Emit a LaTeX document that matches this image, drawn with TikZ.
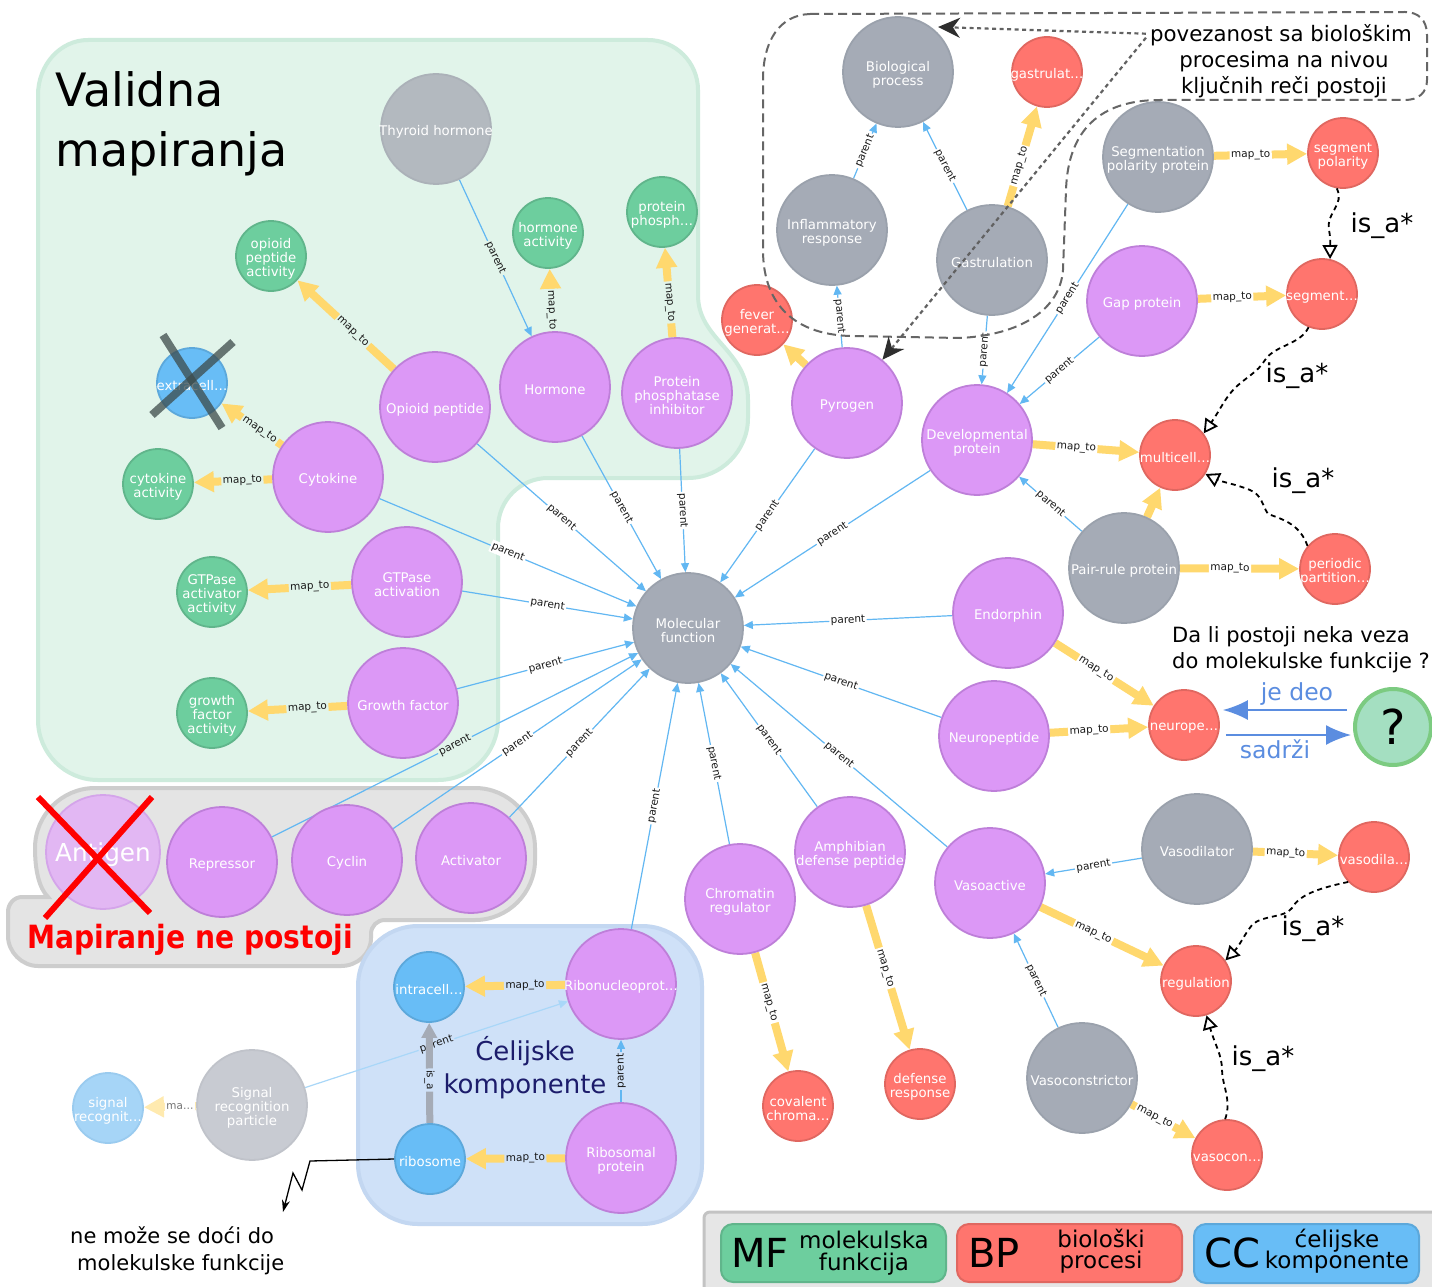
\documentclass[tikz,border=0pt]{standalone}
\usepackage{fontspec}
\setmainfont{DejaVu Sans}
\usepackage{graphicx}
\usetikzlibrary{arrows.meta}
\pgfdeclarelayer{bg}
\pgfdeclarelayer{edges}
\pgfsetlayers{bg,edges,main}
\definecolor{purF}{HTML}{DC98F6}
\definecolor{purB}{HTML}{BE7FD9}
\definecolor{gryF}{HTML}{A5ABB6}
\definecolor{gryB}{HTML}{9AA1AC}
\definecolor{redF}{HTML}{FF756E}
\definecolor{redB}{HTML}{E06760}
\definecolor{grnF}{HTML}{6DCE9E}
\definecolor{grnB}{HTML}{60B58B}
\definecolor{bluF}{HTML}{68BDF6}
\definecolor{bluB}{HTML}{5CA8DB}
\definecolor{mapY}{HTML}{FFD86E}
\definecolor{parB}{HTML}{62B7F2}
\definecolor{grnR}{HTML}{E1F4EA}
\definecolor{grnRB}{HTML}{CDEBDC}
\definecolor{bluR}{HTML}{CFE1F8}
\definecolor{bluRB}{HTML}{C3D7F1}
\definecolor{gryR}{HTML}{E4E4E4}
\definecolor{gryRB}{HTML}{CDCDCD}
\definecolor{legF}{HTML}{E6E6E6}
\definecolor{legB}{HTML}{C3C3C3}
\definecolor{navy}{HTML}{1C1C6B}
\definecolor{arrB}{HTML}{5B8DE0}
\definecolor{thyF}{HTML}{B3B9BF}
\definecolor{thyB}{HTML}{ABB1B8}
\definecolor{srpF}{HTML}{C8CBD2}
\definecolor{srpB}{HTML}{C0C3CA}
\definecolor{antF}{HTML}{E2B7F3}
\definecolor{antB}{HTML}{D4A4EA}
\definecolor{sigF}{HTML}{A6D5F7}
\definecolor{sigB}{HTML}{9ACBEF}
\definecolor{qF}{HTML}{A4DFC1}
\definecolor{qB}{HTML}{7CCB81}
\definecolor{xG}{HTML}{3D4B4B}
\tikzset{
 nd/.style={circle, inner sep=0pt, line width=1.8pt},
 bigN/.style={nd, minimum size=110pt},
 smN/.style={nd, minimum size=70pt},
 purN/.style={bigN, draw=purB, fill=purF},
 gryN/.style={bigN, draw=gryB, fill=gryF},
 redN/.style={smN, draw=redB, fill=redF},
 grnN/.style={smN, draw=grnB, fill=grnF},
 bluN/.style={smN, draw=bluB, fill=bluF},
 txt/.style={text=white, font=\fontsize{13.3}{14}\selectfont, align=center, inner sep=0pt, yshift=-3pt},
 parentE/.style={draw=parB, line width=1.2pt, -{Triangle[length=9pt,width=8pt]}},
 maptoE/.style={draw=mapY, line width=8pt, -{Triangle[length=20pt,width=20pt]}},
 isagE/.style={draw=gryF, line width=7pt, -{Triangle[length=15pt,width=15pt]}},
 elbl/.style={font=\fontsize{10.5}{11}\selectfont, sloped, inner sep=1.5pt, fill=white, text=black!90},
 onG/.style={fill=grnR}, onB/.style={fill=bluR},
 isaE/.style={draw=black, line width=1.8pt, dash pattern=on 5pt off 4pt, -{Triangle[open,length=14pt,width=15pt]}},
 isalbl/.style={font=\fontsize{26}{28}\selectfont, anchor=base, inner sep=0pt},
 annotE/.style={draw=black!62, line width=2.2pt, dash pattern=on 4pt off 3.5pt, -{Stealth[length=22pt,width=20pt,inset=7pt,color=black!82]}},
 plain/.style={inner sep=0pt, anchor=base},
 blueArr/.style={draw=arrB, line width=2pt, -{Latex[length=25pt,width=20pt]}},
 legbox/.style={line width=2pt, rounded corners=12pt},
}
\begin{document}
\begin{tikzpicture}[x=1pt,y=-1pt]
\useasboundingbox (0,0) rectangle (1432,1287);
\begin{pgfonlayer}{bg}
\fill[white] (0,0) rectangle (1432,1287);
% green region
\path[fill=grnR, draw=grnRB, line width=4pt] (88,40) -- (648,40) .. controls (675.6,40) and (698,62.4) .. (698,90) -- (698,295) .. controls (698,340) and (748,350) .. (748,400) -- (748,418) .. controls (748,451) and (721,478) .. (688,478) -- (548,478) .. controls (520.4,478) and (498,500.4) .. (498,528) -- (498,720) .. controls (498,753) and (471,780) .. (438,780) -- (98,780) .. controls (65,780) and (38,753) .. (38,720) -- (38,95) .. controls (38,65) and (60,40) .. (88,40) -- cycle;
% gray region
\path[fill=gryR, draw=gryRB, line width=4pt] (95,788) -- (475,788) .. controls (508,788) and (535,815) .. (535,848) -- (535,860) .. controls (535,893) and (508,920) .. (475,920) -- (385,920) .. controls (377,920) and (371,926) .. (371,934) -- (371,938) .. controls (371,954) and (357,966) .. (341,966) -- (38,966) .. controls (22,966) and (8,952) .. (8,936) -- (8,912) .. controls (8,904) and (14,897) .. (22,897) -- (48,897) .. controls (39,888) and (35,870) .. (35,848) .. controls (35,815) and (62,788) .. (95,788) -- cycle;
% blue region
\path[fill=bluR, draw=bluRB, line width=4pt, rounded corners=60pt] (358,926) rectangle (702,1224);
% legend
\path[fill=legF, draw=legB, line width=3pt, rounded corners=6pt] (704,1212) rectangle (1445,1300);
\end{pgfonlayer}

% ---------- nodes ----------
\node[gryN, label={[txt]center:Molecular\\function}] (mf) at (688,628) {};
\node[bigN, draw=thyB, fill=thyF, label={[txt]center:Thyroid hormone}] (thy) at (436,129) {};
\node[purN, label={[txt]center:Opioid peptide}] (opp) at (435,407) {};
\node[purN, label={[txt]center:Hormone}] (horm) at (555,387) {};
\node[purN, label={[txt]center:Protein\\phosphatase\\inhibitor}] (ppi) at (677,393) {};
\node[purN, label={[txt]center:Cytokine}] (cyto) at (328,477) {};
\node[purN, label={[txt]center:GTPase\\activation}] (gtp) at (407,582) {};
\node[purN, label={[txt]center:Growth factor}] (grow) at (403,703) {};
\node[bigN, minimum size=114pt, draw=antB, fill=antF, label={[txt,font=\fontsize{24.7}{26}\selectfont]center:Antigen}] (ant) at (103,852) {};
\node[purN, label={[txt]center:Repressor}] (rep) at (222,862) {};
\node[purN, label={[txt]center:Cyclin}] (cyc) at (347,860) {};
\node[purN, label={[txt]center:Activator}] (act) at (471,858) {};
\node[purN, label={[txt]center:Ribonucleoprot…}] (ribn) at (621,984) {};
\node[purN, label={[txt]center:Ribosomal\\protein}] (ribp) at (621,1158) {};
\node[bigN, draw=srpB, fill=srpF, label={[txt]center:Signal\\recognition\\particle}] (srp) at (252,1105) {};
\node[purN, label={[txt]center:Chromatin\\regulator}] (chro) at (740,899) {};
\node[purN, label={[txt]center:Amphibian\\defense peptide}] (amph) at (850,852) {};
\node[purN, label={[txt]center:Vasoactive}] (vact) at (990,883) {};
\node[gryN, label={[txt]center:Vasodilator}] (vdil) at (1197,849) {};
\node[gryN, label={[txt]center:Vasoconstrictor}] (vcon) at (1082,1078) {};
\node[purN, label={[txt]center:Neuropeptide}] (neup) at (994,736) {};
\node[purN, label={[txt]center:Endorphin}] (endo) at (1008,613) {};
\node[gryN, label={[txt]center:Pair-rule protein}] (pair) at (1124,568) {};
\node[purN, label={[txt]center:Developmental\\protein}] (dev) at (977,440) {};
\node[purN, label={[txt]center:Gap protein}] (gap) at (1142,301) {};
\node[gryN, label={[txt]center:Segmentation\\polarity protein}] (segp) at (1158,157) {};
\node[gryN, label={[txt]center:Gastrulation}] (gast) at (992,260) {};
\node[gryN, label={[txt]center:Biological\\process}] (bio) at (898,72) {};
\node[gryN, label={[txt]center:Inflammatory\\response}] (infl) at (832,230) {};
\node[purN, label={[txt]center:Pyrogen}] (pyr) at (847,403) {};
% small nodes
\node[grnN, label={[txt]center:opioid\\peptide\\activity}] (opa) at (271,256) {};
\node[grnN, label={[txt]center:hormone\\activity}] (hoa) at (548,233) {};
\node[grnN, label={[txt]center:protein\\phosph…}] (pph) at (662,212) {};
\node[grnN, label={[txt]center:cytokine\\activity}] (cya) at (158,484) {};
\node[grnN, label={[txt]center:GTPase\\activator\\activity}] (gaa) at (212,592) {};
\node[grnN, label={[txt]center:growth\\factor\\activity}] (gfa) at (212,713) {};
\node[bluN, label={[txt]center:extracell…}] (ext) at (192,383) {};
\node[bluN, label={[txt]center:intracell…}] (intr) at (429,987) {};
\node[bluN, label={[txt]center:ribosome}] (ribo) at (430,1159) {};
\node[smN, draw=sigB, fill=sigF, label={[txt]center:signal\\recognit…}] (sig) at (108,1108) {};
\node[redN, label={[txt]center:gastrulat…}] (gasa) at (1047,72) {};
\node[redN, label={[txt]center:fever\\generat…}] (fev) at (757,320) {};
\node[redN, label={[txt]center:segment\\polarity}] (segpol) at (1343,153) {};
\node[redN, label={[txt]center:segment…}] (seg) at (1322,294) {};
\node[redN, label={[txt]center:multicell…}] (mult) at (1175,455) {};
\node[redN, label={[txt]center:periodic\\partition…}] (peri) at (1335,569) {};
\node[redN, label={[txt]center:neurope…}] (neur) at (1184,725) {};
\node[redN, label={[txt]center:vasodila…}] (vdila) at (1374,857) {};
\node[redN, label={[txt]center:regulation}] (reg) at (1196,981) {};
\node[redN, label={[txt]center:vasocon…}] (vcona) at (1227,1155) {};
\node[redN, label={[txt]center:covalent\\chroma…}] (cov) at (798,1106) {};
\node[redN, label={[txt]center:defense\\response}] (defr) at (920,1084) {};
\node[circle, minimum size=76pt, inner sep=0pt, fill=qF, draw=qB, line width=4pt, font=\fontsize{48}{50}\selectfont] (q) at (1393,727) {?};

% ---------- edges ----------
\begin{pgfonlayer}{edges}
\draw[parentE] (thy) -- node[elbl,onG]{parent} (horm);
\draw[parentE] (opp) -- node[elbl]{parent} (mf);
\draw[parentE] (horm) -- node[elbl]{parent} (mf);
\draw[parentE] (ppi) -- node[elbl]{parent} (mf);
\draw[parentE] (cyto) -- node[elbl]{parent} (mf);
\draw[parentE] (gtp) -- node[elbl]{parent} (mf);
\draw[parentE] (grow) -- node[elbl]{parent} (mf);
\draw[parentE] (rep) -- node[elbl,onG]{parent} (mf);
\draw[parentE] (cyc) -- node[elbl]{parent} (mf);
\draw[parentE] (act) -- node[elbl]{parent} (mf);
\draw[parentE] (ribn) -- node[elbl]{parent} (mf);
\draw[parentE] (chro) -- node[elbl]{parent} (mf);
\draw[parentE] (amph) -- node[elbl]{parent} (mf);
\draw[parentE] (vact) -- node[elbl]{parent} (mf);
\draw[parentE] (neup) -- node[elbl]{parent} (mf);
\draw[parentE] (endo) -- node[elbl]{parent} (mf);
\draw[parentE] (dev) -- node[elbl]{parent} (mf);
\draw[parentE] (pyr) -- node[elbl]{parent} (mf);
\draw[parentE] (pyr) -- node[elbl]{parent} (infl);
\draw[parentE] (infl) -- node[elbl]{parent} (bio);
\draw[parentE] (gast) -- node[elbl]{parent} (bio);
\draw[parentE] (gast) -- node[elbl]{parent} (dev);
\draw[parentE] (segp) -- node[elbl]{parent} (dev);
\draw[parentE] (gap) -- node[elbl]{parent} (dev);
\draw[parentE] (pair) -- node[elbl]{parent} (dev);
\draw[parentE] (vdil) -- node[elbl]{parent} (vact);
\draw[parentE] (vcon) -- node[elbl]{parent} (vact);
\draw[parentE] (ribp) -- node[elbl,onB]{parent} (ribn);
\draw[parentE, draw=parB!55] (srp) -- node[elbl,onB]{parent} (ribn);
% map_to
\draw[maptoE] (opp) -- node[elbl,onG,pos=0.425]{map\_to} (opa);
\draw[maptoE] (cyto) -- node[elbl,onG,pos=0.37]{map\_to} (ext);
\draw[maptoE] (cyto) -- node[elbl,onG,pos=0.38]{map\_to} (cya);
\draw[maptoE] (horm) -- node[elbl,onG,pos=0.34]{map\_to} (hoa);
\draw[maptoE] (ppi) -- node[elbl,onG,pos=0.39]{map\_to} (pph);
\draw[maptoE] (gtp) -- node[elbl,onG,pos=0.40]{map\_to} (gaa);
\draw[maptoE] (grow) -- node[elbl,onG,pos=0.40]{map\_to} (gfa);
\draw[maptoE] (pyr) -- (fev);
\draw[maptoE] (gast) -- node[elbl,pos=0.405]{map\_to} (gasa);
\draw[maptoE] (segp) -- node[elbl,pos=0.395]{map\_to} (segpol);
\draw[maptoE] (gap) -- node[elbl,pos=0.39]{map\_to} (seg);
\draw[maptoE] (dev) -- node[elbl,pos=0.41]{map\_to} (mult);
\draw[maptoE] (pair) -- (mult);
\draw[maptoE] (pair) -- node[elbl,pos=0.42]{map\_to} (peri);
\draw[maptoE] (endo) -- node[elbl,pos=0.415]{map\_to} (neur);
\draw[maptoE] (neup) -- node[elbl,pos=0.40]{map\_to} (neur);
\draw[maptoE] (vdil) -- node[elbl,pos=0.385]{map\_to} (vdila);
\draw[maptoE] (vact) -- node[elbl,pos=0.43]{map\_to} (reg);
\draw[maptoE] (vcon) -- node[elbl,pos=0.365]{map\_to} (vcona);
\draw[maptoE] (chro) -- node[elbl,pos=0.42]{map\_to} (cov);
\draw[maptoE] (amph) -- node[elbl,pos=0.435]{map\_to} (defr);
\draw[maptoE] (ribn) -- node[elbl,onB,pos=0.40]{map\_to} (intr);
\draw[maptoE] (ribp) -- node[elbl,onB,pos=0.40]{map\_to} (ribo);
\draw[maptoE, draw=mapY!55] (srp) -- node[elbl, text=black!55, pos=0.31]{ma…} (sig);
\draw[isagE] (ribo) -- node[elbl,onB,pos=0.43]{is\_a} (intr);
\end{pgfonlayer}

% is_a* dashed curves
\draw[isaE] (segpol.260) .. controls (1345,205) and (1326,212) .. (1329,230) .. controls (1331,240) and (1330,248) .. (seg.77);
\draw[isaE] (seg.248) .. controls (1300,345) and (1275,345) .. (1265,360) .. controls (1258,372) and (1245,378) .. (1235,388) .. controls (1225,398) and (1220,410) .. (mult.37);
\draw[isaE] (peri.140) .. controls (1300,525) and (1285,520) .. (1268,514) .. controls (1262,505) and (1262,495) .. (1250,490) .. controls (1235,484) and (1222,482) .. (mult.328);
\draw[isaE] (vdila.224) .. controls (1325,887) and (1300,893) .. (1292,908) .. controls (1285,918) and (1262,915) .. (1252,925) .. controls (1244,935) and (1240,945) .. (reg.35);
\draw[isaE] (vcona.93) .. controls (1232,1100) and (1222,1085) .. (1222,1070) .. controls (1222,1055) and (1215,1045) .. (reg.287);
\node[isalbl] (il1) at (1382,232) {is\_a*};
\node[isalbl] (il2) at (1297,382) {is\_a*};
\node[isalbl] (il3) at (1303,487) {is\_a*};
\node[isalbl] (il4) at (1313,935) {is\_a*};
\node[isalbl] (il5) at (1263,1065) {is\_a*};

% annotation region
\draw[draw=black!60, line width=2pt, dash pattern=on 9pt off 5pt] (810,14) -- (1405,12) .. controls (1418,12) and (1427,20) .. (1427,35) -- (1427,80) .. controls (1427,93) and (1418,100) .. (1405,100) -- (1160,100) .. controls (1100,100) and (1068,130) .. (1066,190) -- (1063,270) .. controls (1060,310) and (1020,335) .. (960,338) -- (850,336) .. controls (790,334) and (763,300) .. (763,250) -- (763,80) .. controls (763,40) and (780,15) .. (810,14) -- cycle;
\node[plain, font=\fontsize{21.3}{23}\selectfont] (cl1) at (1281,42) {povezanost sa biološkim};
\node[plain, font=\fontsize{21.3}{23}\selectfont] (cl2) at (1284,68) {procesima na nivou};
\node[plain, font=\fontsize{21.3}{23}\selectfont] (cl3) at (1284,94) {ključnih reči postoji};
\coordinate (tA) at (938,27);
\draw[annotE] ([xshift=-4pt,yshift=2pt]cl1.west) -- (tA);
\draw[annotE] ([xshift=-4pt,yshift=-2pt]cl1.west) -- (pyr);

% crosses
\draw[xG, opacity=0.75, line width=8pt] (163,335) -- (222,428);
\draw[xG, opacity=0.75, line width=8pt] (233,342) -- (152,415);
\draw[red, line width=6pt] (38,797) -- (150,913);
\draw[red, line width=6pt] (152,797) -- (45,918);

% lightning
\coordinate (ltip) at (283,1212);
\draw[line width=1.3pt, -{Stealth[length=12pt,width=8pt]}] (ribo.west) -- (310,1161) -- (302,1190) -- (293,1173) -- (ltip);

% texts
\node[plain, anchor=base west, font=\fontsize{46}{50}\selectfont] (v1) at (55,107) {Validna};
\node[plain, anchor=base west, font=\fontsize{46}{50}\selectfont] (v2) at (55,167) {mapiranja};
\node[plain, anchor=base west, text=red, font=\bfseries\fontsize{32}{34}\selectfont] (mnp) at (27,948) {\scalebox{0.88}[1]{Mapiranje ne postoji}};
\node[plain, anchor=base west, font=\fontsize{21}{23}\selectfont] (nm1) at (70,1243) {ne može se doći do};
\node[plain, anchor=base west, font=\fontsize{21}{23}\selectfont] (nm2) at (77,1270) {molekulske funkcije};
\node[plain, text=navy, font=\fontsize{26}{28}\selectfont] (ck1) at (525,1060) {Ćelijske};
\node[plain, text=navy, font=\fontsize{26}{28}\selectfont] (ck2) at (525,1093) {komponente};
\node[plain, anchor=base west, font=\fontsize{21}{23}\selectfont] (dl1) at (1172,642) {Da li postoji neka veza};
\node[plain, anchor=base west, font=\fontsize{21}{23}\selectfont] (dl2) at (1172,668) {do molekulske funkcije ?};
\node[plain, text=arrB, font=\fontsize{23.5}{25}\selectfont] (jd) at (1297,700) {je deo};
\node[plain, text=arrB, font=\fontsize{23.5}{25}\selectfont] (sd) at (1275,758) {sadrži};
\draw[blueArr] ([xshift=-6pt,yshift=17pt]q.west) -- ([xshift=3pt,yshift=15pt]neur.east);
\draw[blueArr] ([xshift=6pt,yshift=-10pt]neur.east) -- ([xshift=-2pt,yshift=-8pt]q.west);

% legend
\path[legbox, fill=grnF, draw=grnB] (721,1224) rectangle (946,1282);
\path[legbox, fill=redF, draw=redB] (957,1224) rectangle (1182,1282);
\path[legbox, fill=bluF, draw=bluB] (1194,1224) rectangle (1419,1283);
\node[plain, font=\fontsize{40}{42}\selectfont] (lmf) at (760,1267) {MF};
\node[plain, font=\fontsize{23}{25}\selectfont] (lmf1) at (864,1248) {molekulska};
\node[plain, font=\fontsize{23}{25}\selectfont] (lmf2) at (864,1270) {funkcija};
\node[plain, font=\fontsize{40}{42}\selectfont] (lbp) at (994,1267) {BP};
\node[plain, font=\fontsize{23}{25}\selectfont] (lbp1) at (1101,1247) {biološki};
\node[plain, font=\fontsize{23}{25}\selectfont] (lbp2) at (1101,1268) {procesi};
\node[plain, font=\fontsize{40}{42}\selectfont] (lcc) at (1232,1267) {CC};
\node[plain, font=\fontsize{23}{25}\selectfont] (lcc1) at (1337,1247) {ćelijske};
\node[plain, font=\fontsize{23}{25}\selectfont] (lcc2) at (1337,1268) {komponente};
\end{tikzpicture}
\end{document}
